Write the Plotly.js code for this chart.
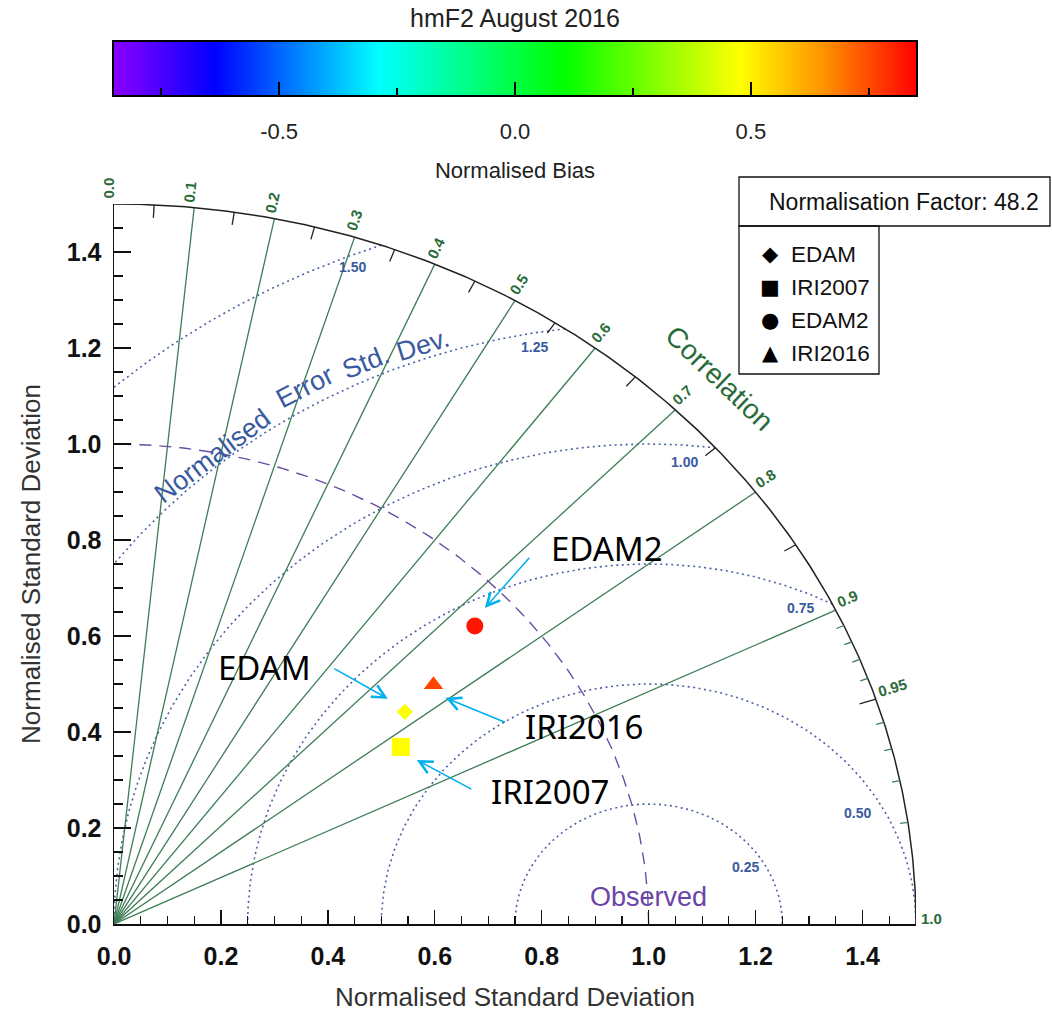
<!DOCTYPE html>
<html><head><meta charset="utf-8">
<script src="https://cdn.plot.ly/plotly-3.0.1.min.js"></script>
<style>html,body{margin:0;padding:0;background:#fff}</style>
</head><body><div id="chart" style="width:1052px;height:1016px"></div>
<script>
// ---------------- data ----------------
const models = ['EDAM', 'IRI2007', 'EDAM2', 'IRI2016'];
const stdDev = [0.701, 0.651, 0.917, 0.778];        // normalised standard deviation
const correlation = [0.776, 0.824, 0.736, 0.768];   // correlation with observations
const bias = [0.47, 0.48, 0.82, 0.76];               // normalised bias (colour)
const normalisationFactor = 48.2;
const biasRange = [-0.85, 0.85];
const biasTicks = [-0.5, 0.0, 0.5];
const corrLines = [0.1, 0.2, 0.3, 0.4, 0.5, 0.6, 0.7, 0.8, 0.9];
const corrLabels = [0.0, 0.1, 0.2, 0.3, 0.4, 0.5, 0.6, 0.7, 0.8, 0.9, 0.95, 1.0];
const corrTicksMid = [0.05, 0.15, 0.25, 0.35, 0.45, 0.55, 0.65, 0.75, 0.85];
const corrTicksBig = [0.95];
const corrTicksFine = [0.91, 0.92, 0.93, 0.94, 0.96, 0.97, 0.98, 0.99];
const rmsLevels = [0.25, 0.5, 0.75, 1.0, 1.25, 1.5];
const stdMax = 1.5;
const refStd = 1.0;

// ---------------- style / geometry config ----------------
const FONT = 'Liberation Sans, Arial, Helvetica, sans-serif';
const W = 1052, H = 1016;
const M = {l: 114, r: 136, t: 30, b: 92};
const plotW = W - M.l - M.r, plotH = H - M.t - M.b;   // 802 x 894
const mainH = 720;                                     // main subplot height in px
const xs = plotW / stdMax, ys = mainH / stdMax;        // px per data unit
const paperX = px => (px - M.l) / plotW;
const paperY = py => (H - M.b - py) / plotH;

const colorscale = [
  [0.0, '#8a00ff'], [0.125, '#0000ff'], [0.33, '#00ffff'],
  [0.56, '#00ff00'], [0.78, '#ffff00'], [0.89, '#ff8c00'], [1.0, '#ff0000']
];
const GREEN = '#3d7d55', GREEN_T = '#2a6b3a', BLUE = '#4d62a6', BLUE_T = '#3a5aa0',
      PURPLE = '#6a4ea3', CYAN = '#00b0f0';

const markerStyle = {
  EDAM:    {symbol: 'diamond',     size: 12.5, glyph: '\u25C6', arrow: {hx: -17, hy: 13, ax: -55, ay: -31}, label: {dx: -140, dy: 44}},
  IRI2007: {symbol: 'square',      size: 18,   glyph: '\u25A0', arrow: {hx: 16, hy: -13, ax: 56, ay: 30},   label: {dx: 149, dy: -45}},
  EDAM2:   {symbol: 'circle',      size: 17,   glyph: '\u25CF', arrow: {hx: 10, hy: 18, ax: 46, ay: -52},   label: {dx: 132, dy: 78}},
  IRI2016: {symbol: 'triangle-up', size: 17,   glyph: '\u25B2', arrow: {hx: 12, hy: -13, ax: 61, ay: 25},   label: {dx: 151, dy: -42}}
};
const rmsLabelAngle = [33, 30.6, 66.7, 86, 100.1, 112];
const rmsLabelInset = [0.033, 0.046, 0.033, 0.035, 0.029, 0.023];
const errWords = [
  {w: 'Normalised', a: 129.9, r: 1.272}, {w: 'Error', a: 119.9, r: 1.29},
  {w: 'Std.', a: 114.3, r: 1.284}, {w: 'Dev.', a: 109.3, r: 1.279}
];

// ---------------- geometry helpers ----------------
const deg = Math.PI / 180;
const sinOf = c => Math.sqrt(Math.max(0, 1 - c * c));
function arc(cx, r, t0, t1, n) {
  const x = [], y = [];
  for (let i = 0; i <= n; i++) { const t = t0 + (t1 - t0) * i / n; x.push(cx + r * Math.cos(t)); y.push(r * Math.sin(t)); }
  return {x, y};
}
function rayTicks(list, lenPx) {
  const x = [], y = [];
  list.forEach(c => {
    const s = sinOf(c), phi = Math.atan2(ys * s, xs * c);
    const ox = stdMax * c, oy = stdMax * s;
    x.push(ox, ox - lenPx * Math.cos(phi) / xs, null);
    y.push(oy, oy - lenPx * Math.sin(phi) / ys, null);
  });
  return {x, y};
}

const traces = [];
const annotations = [];
const shapes = [];

// RMS (error std dev) dotted arcs centred on the reference point
rmsLevels.forEach(r => {
  const cmin = (stdMax * stdMax - refStd * refStd - r * r) / (2 * r * refStd);
  const t0 = cmin >= 1 ? 0 : (cmin <= -1 ? Math.PI : Math.acos(cmin));
  const t1 = r > refStd ? Math.acos(-refStd / r) : Math.PI;
  const a = arc(refStd, r, t0, t1, 200);
  traces.push({type: 'scatter', mode: 'lines', x: a.x, y: a.y, line: {color: BLUE, width: 1.6, dash: '2px,3.5px'}, hoverinfo: 'skip'});
});
rmsLevels.forEach((r, i) => {
  const t = rmsLabelAngle[i] * deg, rr = r - rmsLabelInset[i];
  annotations.push({xref: 'x', yref: 'y', x: refStd + rr * Math.cos(t), y: rr * Math.sin(t), text: r.toFixed(2),
    showarrow: false, font: {family: FONT, size: 14, color: BLUE_T, weight: 'bold'}});
});

// correlation rays
{
  const x = [], y = [];
  corrLines.forEach(c => { x.push(0, stdMax * c, null); y.push(0, stdMax * sinOf(c), null); });
  traces.push({type: 'scatter', mode: 'lines', x, y, line: {color: GREEN, width: 1.3}, hoverinfo: 'skip'});
}

// reference std dev dashed arc
{
  const a = arc(0, refStd, 0, Math.PI / 2, 200);
  traces.push({type: 'scatter', mode: 'lines', x: a.x, y: a.y, line: {color: PURPLE, width: 1.4, dash: '12px,8px'}, hoverinfo: 'skip'});
}

// outer arc + ticks
{
  const a = arc(0, stdMax, 0, Math.PI / 2, 300);
  traces.push({type: 'scatter', mode: 'lines', x: a.x, y: a.y, line: {color: '#222', width: 1.5}, hoverinfo: 'skip'});
  const t1 = rayTicks(corrTicksMid, 13);
  traces.push({type: 'scatter', mode: 'lines', x: t1.x, y: t1.y, line: {color: '#222', width: 1.3}, hoverinfo: 'skip'});
  const t2 = rayTicks(corrTicksBig, 17);
  traces.push({type: 'scatter', mode: 'lines', x: t2.x, y: t2.y, line: {color: '#222', width: 1.3}, hoverinfo: 'skip'});
  const t3 = rayTicks(corrTicksFine, 8);
  traces.push({type: 'scatter', mode: 'lines', x: t3.x, y: t3.y, line: {color: GREEN, width: 1.3}, hoverinfo: 'skip'});
}

// correlation labels, rotated along the rays
corrLabels.forEach(c => {
  const s = sinOf(c), phi = Math.atan2(ys * s, xs * c);
  const txt = (c === 0.95) ? '0.95' : c.toFixed(1);
  const L = txt.length === 4 ? 29 : 21;
  const along = 5 + L / 2, up = 6;
  const dx = along * Math.cos(phi) - up * Math.sin(phi);
  const dyScreen = -along * Math.sin(phi) - up * Math.cos(phi);
  annotations.push({xref: 'x', yref: 'y', x: stdMax * c, y: stdMax * s, xshift: dx, yshift: -dyScreen,
    textangle: -phi / deg, text: txt, showarrow: false, xanchor: 'center', yanchor: 'middle',
    font: {family: FONT, size: 15, color: GREEN_T, weight: 'bold'}});
});

// "Correlation" title along the outer arc
{
  const th = 45.1 * deg, r = 1.605;
  const ang = Math.atan2(ys * Math.cos(th), xs * Math.sin(th)) / deg;
  annotations.push({xref: 'x', yref: 'y', x: r * Math.cos(th), y: r * Math.sin(th), text: 'Correlation',
    textangle: ang + 2, showarrow: false, font: {family: FONT, size: 28, color: GREEN_T}});
}

// "Normalised Error Std. Dev." following the RMS arc
errWords.forEach(o => {
  const a = o.a * deg;
  const ang = -Math.atan2(-ys * Math.cos(a), xs * Math.sin(a)) / deg;
  annotations.push({xref: 'x', yref: 'y', x: refStd + o.r * Math.cos(a), y: o.r * Math.sin(a), text: o.w,
    textangle: ang, showarrow: false, font: {family: FONT, size: 27, color: BLUE_T}});
});

// "Observed"
annotations.push({xref: 'x', yref: 'y', x: refStd, y: 0, yshift: 27, text: 'Observed', showarrow: false,
  font: {family: FONT, size: 27, color: '#6a45a6'}});

// model points
const mx = stdDev.map((s, i) => s * correlation[i]);
const my = stdDev.map((s, i) => s * sinOf(correlation[i]));
traces.push({type: 'scatter', mode: 'markers', x: mx, y: my, text: models, hoverinfo: 'text',
  marker: {symbol: models.map(m => markerStyle[m].symbol), size: models.map(m => markerStyle[m].size), opacity: 1,
    color: bias, cmin: biasRange[0], cmax: biasRange[1], colorscale, line: {width: 0}}, cliponaxis: false});

// arrows + callout labels
models.forEach((m, i) => {
  const st = markerStyle[m];
  annotations.push({xref: 'x', yref: 'y', x: mx[i], y: my[i], xshift: st.arrow.hx, yshift: st.arrow.hy,
    ax: st.arrow.ax, ay: st.arrow.ay, text: ' ', font: {size: 1}, showarrow: true, arrowhead: 5,
    arrowsize: 1.6, arrowwidth: 1.6, arrowcolor: CYAN, standoff: 0, startstandoff: 0});
  annotations.push({xref: 'x', yref: 'y', x: mx[i], y: my[i], xshift: st.label.dx, yshift: st.label.dy,
    text: m, showarrow: false, font: {family: 'Noto Sans, Open Sans, sans-serif', size: 33, color: '#000'}});
});

// normalisation factor box + symbol legend
shapes.push({type: 'rect', xref: 'paper', yref: 'paper', x0: paperX(739), x1: paperX(1050), y0: paperY(226), y1: paperY(177),
  line: {color: '#111', width: 1.3}});
annotations.push({xref: 'paper', yref: 'paper', x: paperX(1041), y: paperY(202), xanchor: 'right', yanchor: 'middle',
  text: 'Normalisation Factor: ' + normalisationFactor.toFixed(1), showarrow: false, font: {family: FONT, size: 23, color: '#111'}});
shapes.push({type: 'rect', xref: 'paper', yref: 'paper', x0: paperX(739), x1: paperX(879), y0: paperY(374), y1: paperY(226),
  line: {color: '#111', width: 1.3}});
models.forEach((m, i) => {
  const py = 254 + i * 33;
  annotations.push({xref: 'paper', yref: 'paper', x: paperX(770), y: paperY(py), xanchor: 'center', yanchor: 'middle',
    text: markerStyle[m].glyph, showarrow: false, font: {family: 'DejaVu Sans', size: 21, color: '#000'}});
  annotations.push({xref: 'paper', yref: 'paper', x: paperX(789), y: paperY(py), xanchor: 'left', yanchor: 'middle',
    text: m, showarrow: false, font: {family: FONT, size: 22.5, color: '#111'}});
});

// colour bar (heatmap on its own axes)
traces.push({type: 'heatmap', x: biasRange, y: [0], z: [biasRange], zmin: biasRange[0], zmax: biasRange[1],
  colorscale, zsmooth: 'best', showscale: false, xaxis: 'x2', yaxis: 'y2', hoverinfo: 'skip'});

const tickFont = {family: FONT, size: 25, color: '#111', weight: 'bold'};
const layout = {
  width: W, height: H, margin: M, paper_bgcolor: '#fff', plot_bgcolor: 'rgba(0,0,0,0)',
  showlegend: false,
  title: {text: 'hmF2 August 2016', x: 0.5, xref: 'paper', y: 1 - 18 / H, yref: 'container', yanchor: 'middle',
    font: {family: FONT, size: 25, color: '#222'}},
  xaxis: {domain: [0, 1], range: [0, stdMax], anchor: 'y', showline: true, linecolor: '#111', linewidth: 1.5,
    ticks: 'inside', ticklen: 14, tickwidth: 1.3, tickcolor: '#111', tick0: 0, dtick: 0.2, tickformat: '.1f',
    minor: {ticks: 'inside', ticklen: 8, tickwidth: 1.2, tickcolor: '#111', dtick: 0.05, tick0: 0},
    showgrid: false, zeroline: false, tickfont: tickFont, ticklabelstandoff: 9,
    title: {text: 'Normalised Standard Deviation', font: {family: FONT, size: 26, color: '#333'}, standoff: 19}},
  yaxis: {domain: [0, mainH / plotH], range: [0, stdMax], anchor: 'x', showline: true, linecolor: '#111', linewidth: 1.5,
    ticks: 'inside', ticklen: 17, tickwidth: 1.3, tickcolor: '#111', tick0: 0, dtick: 0.2, tickformat: '.1f',
    minor: {ticks: 'inside', ticklen: 9, tickwidth: 1.2, tickcolor: '#111', dtick: 0.05, tick0: 0},
    showgrid: false, zeroline: false, tickfont: tickFont, ticklabelstandoff: 6,
    title: {text: 'Normalised Standard Deviation', font: {family: FONT, size: 26, color: '#333'}, standoff: 18}},
  xaxis2: {domain: [0, 1], range: biasRange, anchor: 'y2', side: 'bottom', showline: true, mirror: true,
    linecolor: '#000', linewidth: 2, ticks: 'inside', ticklen: 13, tickwidth: 1.5, tickcolor: '#000',
    tickmode: 'array', tickvals: biasTicks, ticktext: biasTicks.map(v => v.toFixed(1)),
    minor: {ticks: 'inside', ticklen: 7, tickwidth: 1.5, tickcolor: '#000', dtick: 0.25, tick0: 0},
    showgrid: false, zeroline: false, tickfont: {family: FONT, size: 22, color: '#222'}, ticklabelstandoff: 16,
    title: {text: 'Normalised Bias', font: {family: FONT, size: 22, color: '#222'}, standoff: 19}},
  yaxis2: {domain: [paperY(95), paperY(42)], range: [-0.5, 0.5], anchor: 'x2', showline: true, mirror: true,
    linecolor: '#000', linewidth: 2, ticks: '', showticklabels: false, showgrid: false, zeroline: false},
  annotations, shapes
};

Plotly.newPlot('chart', traces, layout, {staticPlot: true});
</script>
</body></html>
